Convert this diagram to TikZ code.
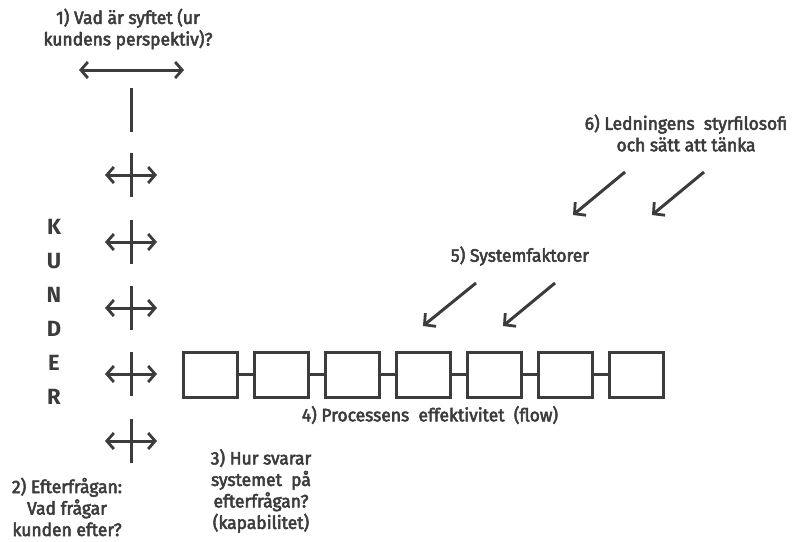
\documentclass[tikz,border=0pt]{standalone}
\usepackage{fontspec}
\setmainfont{Fira Sans}[FakeStretch=0.97,FakeBold=3]
\newfontfamily\kfont{Fira Sans}
\usetikzlibrary{arrows.meta}
\definecolor{ink}{HTML}{3C3C3C}
\begin{document}
\begin{tikzpicture}[x=1pt,y=-1pt,
  line/.style={draw=ink,line width=3pt},
  dbl/.style={line,{Straight Barb[length=7pt,width=16pt,line width=2.8pt]}-{Straight Barb[length=7pt,width=16pt,line width=2.8pt]}},
  sng/.style={line,-{Straight Barb[length=8pt,width=17pt,line width=2.8pt]}},
  lbl/.style={text=ink,font=\fontsize{18}{21.5}\selectfont,align=center,inner sep=0pt},
  letter/.style={text=ink,font=\kfont\fontsize{22}{22}\selectfont\bfseries,inner sep=0pt},
  proc/.style={draw=ink,line width=3pt,minimum width=54pt,minimum height=45pt,inner sep=0pt}]
\useasboundingbox (0,0) rectangle (802,541);

% purpose of the customer
\node[lbl] (purpose) at (128,29) {1) Vad är syftet (ur\\kundens perspektiv)?};
\coordinate (pl) at (79,70); \coordinate (pr) at (184,70);
\draw[dbl] (pl) -- (pr);
\coordinate (vt) at (131,88); \coordinate (vb) at (131,132);
\draw[line] (vt) -- (vb);

% customer demand crosses
\foreach \i/\y in {1/175,2/242,3/308,4/374,5/441}{
  \coordinate (c\i t) at (131,\y-22);
  \coordinate (c\i b) at (131,\y+22);
  \coordinate (c\i l) at (105,\y);
  \coordinate (c\i r) at (157,\y);
  \draw[line] (c\i t) -- (c\i b);
  \draw[dbl] (c\i l) -- (c\i r);
}

% KUNDER
\foreach \ch [count=\k] in {K,U,N,D,E,R}
  \node[letter] (k\k) at (54,193+34*\k) {\ch};

% process chain
\foreach \i in {1,...,7}
  \node[proc] (b\i) at (210+71*\i-71,374.5) {};
\foreach \i [evaluate=\i as \j using int(\i+1)] in {1,...,6}
  \draw[line] (b\i.east) -- (b\j.west);
\node[lbl] (flow) at (430,415) {4) Processens\ \ effektivitet\ \ (flow)};

% demand and capability
\node[lbl] (demand) at (67,507) {2) Efterfrågan:\\Vad frågar\\kunden efter?};
\node[lbl] (capab) at (261,491) {3) Hur svarar\\systemet\ \ på\\efterfrågan?\\(kapabilitet)};

% system factors
\node[lbl] (sys) at (520,256) {5) Systemfaktorer};
\coordinate (s1a) at (476,283); \coordinate (s1b) at (423,326);
\coordinate (s2a) at (555,283); \coordinate (s2b) at (503,326);
\draw[sng] (s1a) -- (s1b);
\draw[sng] (s2a) -- (s2b);

% management philosophy
\node[lbl] (mgmt) at (686,133) {6) Ledningens\ \ styrfilosofi\\och sätt att tänka};
\coordinate (m1a) at (625,172); \coordinate (m1b) at (573,215);
\coordinate (m2a) at (704,172); \coordinate (m2b) at (652,215);
\draw[sng] (m1a) -- (m1b);
\draw[sng] (m2a) -- (m2b);
\end{tikzpicture}
\end{document}
